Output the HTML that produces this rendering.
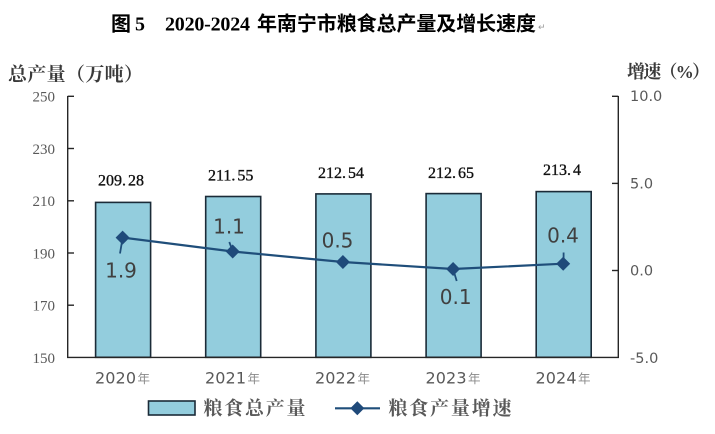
<!DOCTYPE html>
<html>
<head>
<meta charset="utf-8">
<style>
html,body{margin:0;padding:0;background:#fff;}
svg{display:block;}
</style>
</head>
<body>
<svg width="715" height="434" viewBox="0 0 715 434" xmlns="http://www.w3.org/2000/svg">
  <rect width="715" height="434" fill="#fff"/>
  <!-- Title -->
  <g font-weight="bold" fill="#000">
    <text x="111" y="30.7" font-family="'Noto Sans CJK SC', sans-serif" font-size="20">图</text>
    <text x="135" y="30.7" font-family="'Liberation Serif', serif" font-size="20">5</text>
    <text x="165" y="30.7" font-family="'Liberation Serif', serif" font-size="20" textLength="85">2020-2024</text>
    <text x="257" y="30.7" font-family="'Noto Sans CJK SC', sans-serif" font-size="20" textLength="279">年南宁市粮食总产量及增长速度</text>
  </g>
  <text x="538" y="30" font-family="'DejaVu Sans', sans-serif" font-size="9" fill="#999">↵</text>

  <!-- Axis titles -->
  <text x="8" y="80.5" font-family="'Liberation Serif','Noto Serif CJK SC', serif" font-weight="bold" font-size="19" fill="#3a3a3a" textLength="135">总产量（万吨）</text>
  <text x="627" y="78" font-family="'Liberation Serif','Noto Serif CJK SC', serif" font-weight="bold" font-size="18" fill="#3a3a3a" textLength="83">增速（%）</text>

  <!-- Bars -->
  <g fill="#93cddd" stroke="#1b2b38" stroke-width="1.6">
    <rect x="95.6" y="202.4" width="55" height="154.9"/>
    <rect x="205.7" y="196.5" width="55" height="160.8"/>
    <rect x="315.9" y="193.9" width="55" height="163.4"/>
    <rect x="426.1" y="193.6" width="55" height="163.7"/>
    <rect x="536.2" y="191.6" width="55" height="165.7"/>
  </g>

  <!-- Axes -->
  <g stroke="#262626" stroke-width="1.4" fill="none">
    <line x1="67.7" y1="96" x2="67.7" y2="357.5"/>
    <line x1="618.3" y1="96" x2="618.3" y2="357.5"/>
    <line x1="67" y1="357.4" x2="619" y2="357.4"/>
    <line x1="67.7" y1="96.3" x2="74" y2="96.3"/>
    <line x1="67.7" y1="148.5" x2="74" y2="148.5"/>
    <line x1="67.7" y1="200.8" x2="74" y2="200.8"/>
    <line x1="67.7" y1="253" x2="74" y2="253"/>
    <line x1="67.7" y1="305.2" x2="74" y2="305.2"/>
    <line x1="612" y1="96.3" x2="618.3" y2="96.3"/>
    <line x1="612" y1="183.4" x2="618.3" y2="183.4"/>
    <line x1="612" y1="270.5" x2="618.3" y2="270.5"/>
  </g>

  <!-- Left axis labels -->
  <g font-family="'Liberation Serif', serif" font-size="15" fill="#595959" text-anchor="end">
    <text x="55" y="101.7">250</text>
    <text x="55" y="153.9">230</text>
    <text x="55" y="206.2">210</text>
    <text x="55" y="258.4">190</text>
    <text x="55" y="310.6">170</text>
    <text x="55" y="362.8">150</text>
  </g>

  <!-- Right axis labels -->
  <g font-family="'DejaVu Sans', sans-serif" font-size="14.5" fill="#595959">
    <text x="630" y="100.8">10.0</text>
    <text x="630" y="188.5">5.0</text>
    <text x="630" y="275.6">0.0</text>
    <text x="630" y="362.8">-5.0</text>
  </g>

  <!-- Category labels -->
  <g font-family="'DejaVu Sans', sans-serif" font-size="16" fill="#595959">
    <text x="95" y="383.5" textLength="41">2020</text>
    <text x="205" y="383.5" textLength="41">2021</text>
    <text x="315" y="383.5" textLength="41">2022</text>
    <text x="425.5" y="383.5" textLength="41">2023</text>
    <text x="535.5" y="383.5" textLength="41">2024</text>
  </g>
  <g font-family="'Noto Sans CJK SC', sans-serif" font-size="12.5" fill="#8a8a8a">
    <text x="137.5" y="383">年</text>
    <text x="247.5" y="383">年</text>
    <text x="357.5" y="383">年</text>
    <text x="468" y="383">年</text>
    <text x="578" y="383">年</text>
  </g>

  <!-- Bar value labels -->
  <g font-family="'Liberation Serif', serif" font-size="16" fill="#111" stroke="#111" stroke-width="0.35">
    <text x="98" y="185.5">209.<tspan dx="2">28</tspan></text>
    <text x="208" y="180.5">211.<tspan dx="2">55</tspan></text>
    <text x="318" y="178">212.<tspan dx="2">54</tspan></text>
    <text x="428" y="178">212.<tspan dx="2">65</tspan></text>
    <text x="543" y="175">213.<tspan dx="2">4</tspan></text>
  </g>

  <!-- Leader lines -->
  <g stroke="#1f4e7a" stroke-width="1.8" fill="none">
    <line x1="122.6" y1="238" x2="120" y2="253.5"/>
    <line x1="229.3" y1="242" x2="232.7" y2="251"/>
    <line x1="453.1" y1="269" x2="456.7" y2="281"/>
    <line x1="563.6" y1="252.5" x2="563.6" y2="263"/>
  </g>

  <!-- Growth line -->
  <polyline points="122.6,237.6 232.7,251.5 342.9,262 453.1,269 563.2,263.7" fill="none" stroke="#1f4e7a" stroke-width="2.2" stroke-linejoin="round"/>
  <g fill="#1f4a7a">
    <path d="M122.6,230.6 L129.6,237.6 L122.6,244.6 L115.6,237.6 Z"/>
    <path d="M232.7,244.5 L239.7,251.5 L232.7,258.5 L225.7,251.5 Z"/>
    <path d="M342.9,255 L349.9,262 L342.9,269 L335.9,262 Z"/>
    <path d="M453.1,262 L460.1,269 L453.1,276 L446.1,269 Z"/>
    <path d="M563.2,256.7 L570.2,263.7 L563.2,270.7 L556.2,263.7 Z"/>
  </g>

  <!-- Growth labels -->
  <g font-family="'DejaVu Sans', sans-serif" font-size="20" fill="#404040" text-anchor="middle">
    <text x="121" y="277.3">1.9</text>
    <text x="229" y="233.3">1.1</text>
    <text x="337.5" y="247.3">0.5</text>
    <text x="455.7" y="304">0.1</text>
    <text x="563" y="242.7">0.4</text>
  </g>

  <!-- Legend -->
  <rect x="148.5" y="401" width="46.5" height="14" fill="#93cddd" stroke="#1b2b38" stroke-width="1.6"/>
  <text x="203.5" y="414.5" font-family="'Liberation Serif','Noto Serif CJK SC', serif" font-weight="bold" font-size="19" fill="#595959" textLength="102">粮食总产量</text>
  <line x1="335" y1="408.3" x2="380" y2="408.3" stroke="#1f4e7a" stroke-width="2.2"/>
  <path d="M357.3,401.3 L364.3,408.3 L357.3,415.3 L350.3,408.3 Z" fill="#1f4a7a"/>
  <text x="388.5" y="414.5" font-family="'Liberation Serif','Noto Serif CJK SC', serif" font-weight="bold" font-size="19" fill="#595959" textLength="123">粮食产量增速</text>
</svg>
</body>
</html>
